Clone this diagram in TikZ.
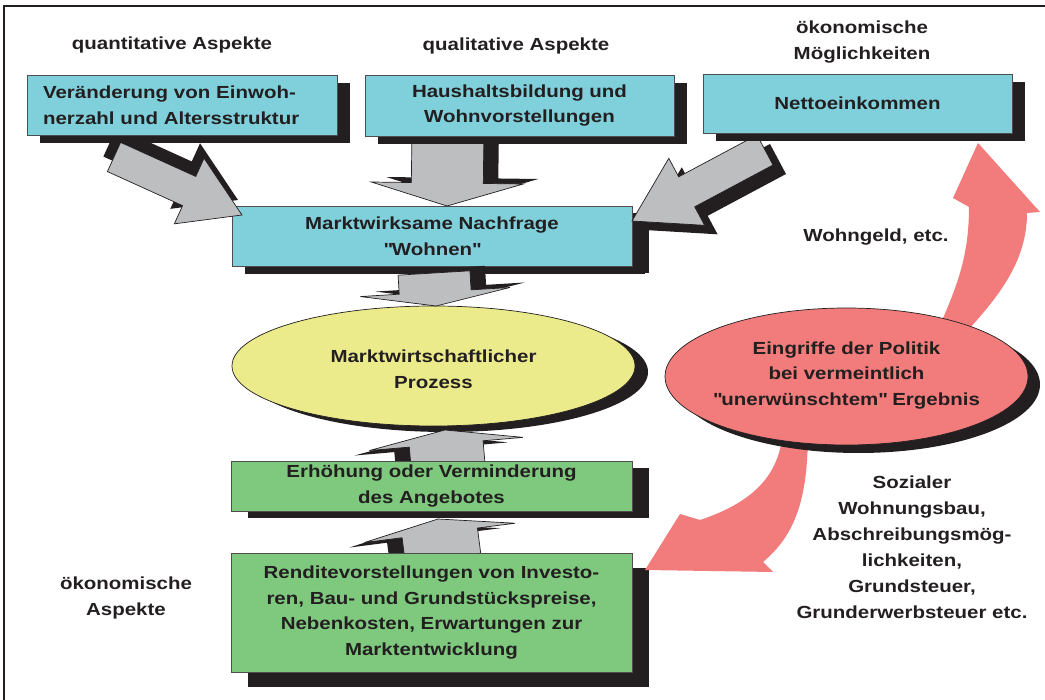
\documentclass[tikz,border=0pt]{standalone}
\usepackage{fontspec}
\setmainfont{Liberation Sans}[FakeStretch=1.17]
\usetikzlibrary{calc,shapes.geometric,shadows}
\definecolor{cyanbox}{HTML}{80D0DC}
\definecolor{greenbox}{HTML}{7FC97F}
\definecolor{yellowell}{HTML}{EBEB8C}
\definecolor{pinkc}{HTML}{F27B7B}
\definecolor{arrowgray}{HTML}{BCBEC0}
\definecolor{shadowc}{HTML}{231F20}
\definecolor{textc}{HTML}{231F20}
\pgfdeclarelayer{lA}\pgfdeclarelayer{lB}\pgfdeclarelayer{lC}\pgfdeclarelayer{lD}\pgfdeclarelayer{lE}
\pgfsetlayers{lA,lB,lC,lD,main,lE}
\newcommand\qd{\textquotedbl}
% #1 start, #2 tip, #3 shaft half width, #4 head half width, #5 head length, #6/#7 shadow shift (canvas)
\newcommand\grayarrow[7]{%
  \coordinate (ga-s) at #1;
  \coordinate (ga-t) at #2;
  \coordinate (ga-b) at ($(ga-t)!#5!(ga-s)$);
  \coordinate (ga-s1) at ($(ga-s)!#3!90:(ga-t)$);
  \coordinate (ga-s2) at ($(ga-s)!#3!-90:(ga-t)$);
  \coordinate (ga-b1) at ($(ga-b)!#3!90:(ga-t)$);
  \coordinate (ga-b2) at ($(ga-b)!#3!-90:(ga-t)$);
  \coordinate (ga-h1) at ($(ga-b)!#4!90:(ga-t)$);
  \coordinate (ga-h2) at ($(ga-b)!#4!-90:(ga-t)$);
  \fill[shadowc, transform canvas={xshift=#6pt,yshift=#7pt}]
    (ga-s1) -- (ga-b1) -- (ga-h1) -- (ga-t) -- (ga-h2) -- (ga-b2) -- (ga-s2) -- cycle;
  \filldraw[fill=arrowgray, draw=shadowc, line width=0.7pt, line join=miter]
    (ga-s1) -- (ga-b1) -- (ga-h1) -- (ga-t) -- (ga-h2) -- (ga-b2) -- (ga-s2) -- cycle;
}
\tikzset{
  txt/.style={font=\fontsize{17.5}{25.5}\selectfont\bfseries, text=textc, align=center, inner sep=0pt},
  boxbase/.style={txt, draw=shadowc!80, line width=0.7pt, inner sep=0pt, outer sep=0pt},
  cbox/.style={boxbase, fill=cyanbox, general shadow={fill=shadowc, shadow xshift=13pt, shadow yshift=-8pt}},
  gbox/.style={boxbase, fill=greenbox},
  ell/.style={ellipse, draw=shadowc, line width=0.7pt, inner sep=0pt, outer sep=0pt},
}
\begin{document}
\begin{tikzpicture}[x=1pt, y=-1pt]
\useasboundingbox (0,0) rectangle (1045,700);
\draw[shadowc, line width=1.3pt] (4,700) -- (4,6) -- (1045,6);

% bottom layer: demand box and market ellipse
\begin{pgfonlayer}{lA}
\node[cbox, minimum width=400pt, minimum height=60pt,
      general shadow={fill=shadowc, shadow xshift=17pt, shadow yshift=-7pt}] (m) at (432,236)
      {Marktwirksame Nachfrage\\\qd Wohnen\qd};
\node[ell, fill=yellowell, minimum width=403pt, minimum height=120pt,
      general shadow={fill=shadowc, shadow xshift=13pt, shadow yshift=-6pt}] (e) at (433.5,366) {};
\node[txt] (et) at ($(e.center)+(0,3)$) {Marktwirtschaftlicher\\Prozess};
\end{pgfonlayer}

% top boxes and supply box
\begin{pgfonlayer}{lC}
\node[cbox, text width=278pt, inner xsep=16pt, align=left, minimum height=60pt] (q1) at (182,105)
      {Veränderung von Einwoh-\\nerzahl und Altersstruktur};
\node[cbox, minimum width=309pt, minimum height=61pt] (q2) at (519.5,105.5)
      {Haushaltsbildung und\\Wohnvorstellungen};
\node[cbox, minimum width=309pt, minimum height=59pt] (q3) at (857.5,103.5) {Nettoeinkommen};
\node[gbox, minimum width=401pt, minimum height=50pt,
      general shadow={fill=shadowc, shadow xshift=17pt, shadow yshift=-7pt}] (g1) at (431.5,486)
      {Erhöhung oder Verminderung\\des Angebotes};
\end{pgfonlayer}

\node[gbox, minimum width=401pt, minimum height=119pt,
      general shadow={fill=shadowc, shadow xshift=17pt, shadow yshift=-15pt}] (g2) at (431.5,612.5)
      {Renditevorstellungen von Investo-\\ren, Bau- und Grundstückspreise,\\Nebenkosten, Erwartungen zur\\Marktentwicklung};

% policy ellipse on top
\begin{pgfonlayer}{lE}
\node[ell, fill=pinkc, minimum width=363pt, minimum height=137pt,
      general shadow={fill=shadowc, shadow xshift=12pt, shadow yshift=-8pt}] (pe) at (846.5,376.5) {};
\node[txt] (pt) at ($(pe.center)+(0,-1)$) {Eingriffe der Politik\\bei vermeintlich\\\qd unerwünschtem\qd{} Ergebnis};
\end{pgfonlayer}

% gray block arrows
\begin{pgfonlayer}{lB}
\grayarrow{($(q1.south west)+(87,22)$)}{($(m.north west)+(10,9)$)}{16pt}{36pt}{58pt}{-4}{15}
\grayarrow{($(q2.south)+(-71.5,-6)$)}{($(m.north)+(15,0)$)}{36pt}{76pt}{23pt}{15}{5}
\grayarrow{($(q3.south west)+(62,17)$)}{($(m.north east)+(0,15)$)}{17pt}{38pt}{62pt}{13}{-9}
\grayarrow{($(m.south)+(2,7)$)}{($(e.north)+(2.5,0)$)}{36pt}{75pt}{14pt}{15}{5}
\grayarrow{($(g1.north)+(16.5,4)$)}{($(e.south)+(11.5,4)$)}{37pt}{77pt}{14pt}{-15}{-5}
\end{pgfonlayer}
\begin{pgfonlayer}{lD}
\grayarrow{($(g2.north)+(11.5,5)$)}{($(g1.south)+(6.5,8)$)}{38pt}{76pt}{14pt}{-15}{-5}
\end{pgfonlayer}

% pink curved arrows
\fill[pinkc, shift={(pe.center)}]
  (91.5,-46.5) .. controls (108.5,-86.5) and (122.5,-116.5) .. (122.5,-169.5)
  -- (106.5,-178.5) -- (131.5,-233.5) -- (193.5,-164.5) -- (180.5,-163.5)
  .. controls (180.5,-116.5) and (153.5,-81.5) .. (121.5,-46.5) -- cycle;
\fill[pinkc, shift={(pe.center)}]
  (-63.5,53.5) .. controls (-66.5,93.5) and (-86.5,123.5) .. (-146.5,143.5)
  -- (-166.5,137.5) -- (-201.5,193.5) -- (-73.5,195.5) -- (-83.5,185.5)
  .. controls (-51.5,158.5) and (-38.5,123.5) .. (-38.5,53.5) -- cycle;

% free labels
\node[txt] (lq) at (172,45) {quantitative Aspekte};
\node[txt] (lql) at (516,46) {qualitative Aspekte};
\node[txt] (lok) at (862,42) {ökonomische\\Möglichkeiten};
\node[txt] (lwg) at (876,237) {Wohngeld, etc.};
\node[txt, font=\fontsize{17.5}{26}\selectfont\bfseries] (lsz) at (912,547)
  {Sozialer\\Wohnungsbau,\\Abschreibungsmög-\\lichkeiten,\\Grundsteuer,\\Grunderwerbsteuer etc.};
\node[txt] (loa) at (126,598) {ökonomische\\Aspekte};
\end{tikzpicture}
\end{document}
